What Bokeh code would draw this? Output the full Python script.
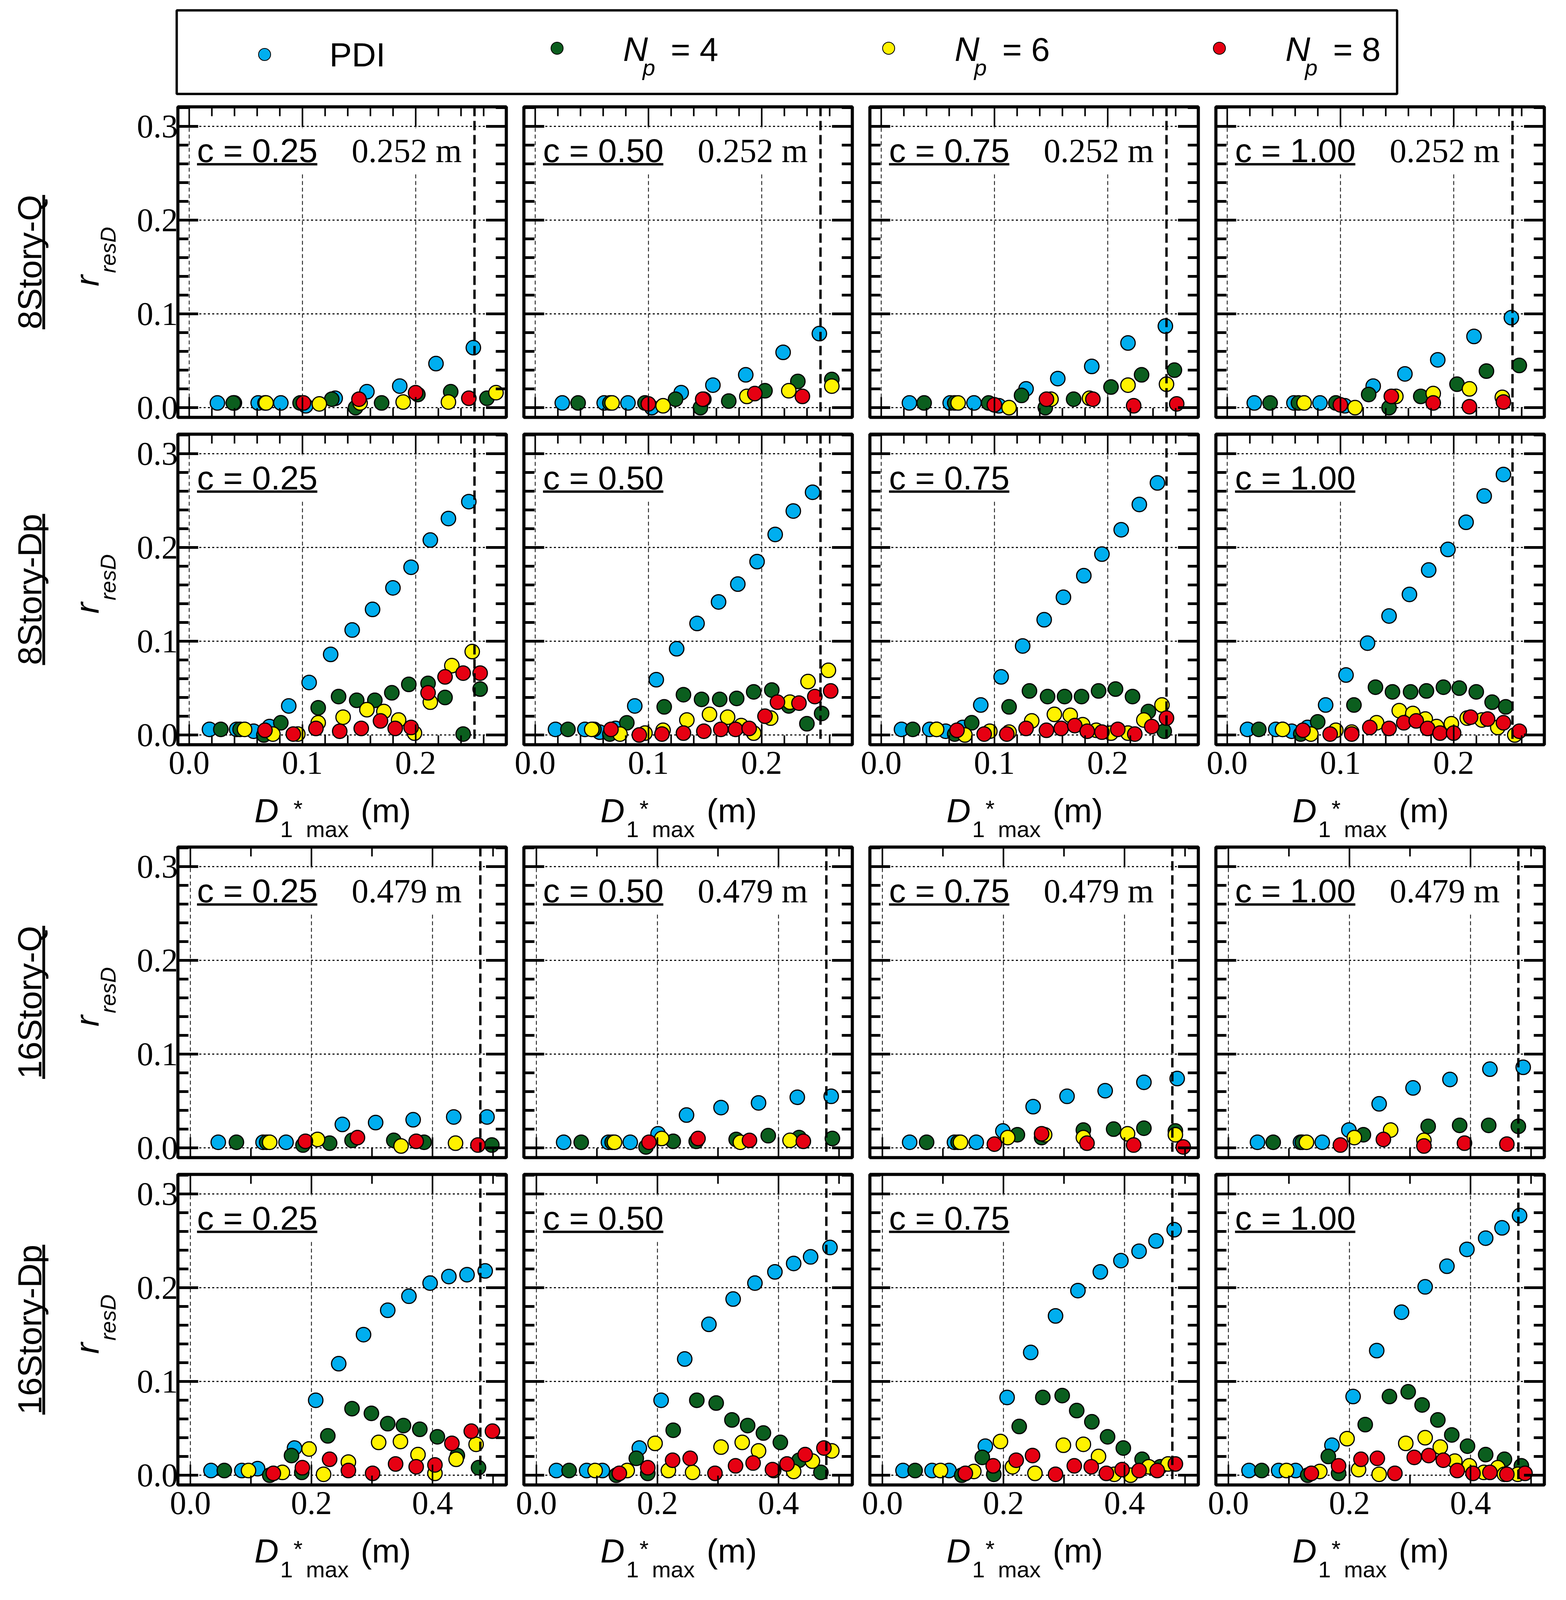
import math
from bokeh.plotting import figure
from bokeh.layouts import column, row
from bokeh.models import (Range1d, LinearAxis, FixedTicker, Span, Label,
                          BoxAnnotation, PrintfTickFormatter, CustomJSTickFormatter)
from bokeh.embed import file_html
from bokeh.resources import INLINE

# ---------------- data ----------------
C_VALUES = ["0.25", "0.50", "0.75", "1.00"]
ROW_NAMES = ["8Story-Q", "8Story-Dp", "16Story-Q", "16Story-Dp"]
LIMITS = [0.252, 0.252, 0.479, 0.479]
LIMIT_TEXT = ["0.252 m", None, "0.479 m", None]
SERIES_NAMES = ["PDI", "4", "6", "8"]
COLORS = ["#00AEEF", "#0B5E1E", "#FFF200", "#E60012"]

# 8Story-Q
Q8_PDI_X = [[.025, .040, .061, .081, .103, .129, .157, .186, .218, .251],
            [.024, .061, .082, .103, .129, .157, .186, .219, .251],
            [.025, .061, .082, .104, .128, .156, .186, .218, .251],
            [.024, .059, .082, .104, .129, .157, .186, .218, .251]]
Q8_PDI_Y = [[.005, .005, .005, .005, .002, .010, .017, .023, .047, .064],
            [.005, .005, .005, .000, .016, .024, .035, .059, .079],
            [.005, .005, .005, .002, .020, .031, .044, .069, .087],
            [.005, .005, .005, .002, .023, .036, .051, .076, .096]]
Q8_NP4_X = [[.039, .067, .098, .126, .147, .170, .202, .231, .263],
            [.038, .066, .097, .124, .146, .171, .203, .232, .262],
            [.038, .065, .095, .124, .145, .170, .203, .230, .259],
            [.038, .063, .096, .125, .143, .171, .203, .229, .258]]
Q8_NP4_Y = [[.005, .005, .005, .009, .000, .005, .014, .017, .010],
            [.005, .005, .005, .009, .000, .007, .018, .028, .030],
            [.005, .005, .005, .013, .000, .009, .022, .035, .040],
            [.005, .005, .005, .014, .000, .012, .025, .039, .045]]
Q8_NP6_X = [[.068, .115, .151, .189, .229, .271],
            [.068, .113, .149, .187, .224, .262],
            [.068, .113, .150, .184, .218, .252],
            [.068, .113, .149, .182, .214, .243]]
Q8_NP6_Y = [[.005, .004, .005, .006, .006, .016],
            [.005, .002, .009, .012, .018, .023],
            [.005, .000, .009, .010, .024, .025],
            [.005, .000, .012, .015, .020, .011]]
Q8_NP8_X = [[.101, .150, .200, .247],
            [.100, .148, .194, .236],
            [.100, .146, .187, .223, .261],
            [.100, .145, .182, .214, .244]]
Q8_NP8_Y = [[.005, .009, .016, .010],
            [.004, .009, .015, .012],
            [.003, .009, .009, .002, .004],
            [.003, .012, .005, .001, .006]]

# 8Story-Dp
DP8_PDI_X = [[.018, .042, .057, .071, .088, .106, .125, .144, .162, .180, .196, .213, .229, .247],
             [.018, .044, .057, .071, .088, .107, .125, .143, .162, .179, .196, .212, .228, .245],
             [.018, .043, .057, .072, .088, .106, .125, .144, .161, .179, .195, .212, .228, .244],
             [.018, .043, .057, .071, .087, .105, .124, .143, .161, .178, .195, .211, .227, .244]]
DP8_PDI_Y = [[.006, .006, .004, .009, .031, .056, .086, .112, .134, .157, .179, .208, .231, .249],
             [.006, .006, .003, .007, .031, .059, .092, .119, .142, .161, .185, .214, .239, .259],
             [.006, .006, .004, .008, .032, .062, .095, .123, .147, .170, .193, .219, .246, .269],
             [.006, .006, .004, .008, .032, .064, .098, .127, .150, .176, .198, .227, .255, .278]]
DP8_NP4_X = [[.028, .045, .066, .081, .114, .132, .148, .164, .179, .194, .211, .226, .242, .257],
             [.029, .052, .066, .081, .114, .131, .147, .163, .178, .193, .209, .224, .240, .253],
             [.028, .049, .065, .080, .113, .131, .147, .162, .177, .192, .207, .222, .236, .250],
             [.028, .049, .065, .080, .112, .131, .146, .162, .176, .191, .205, .220, .234, .246]]
DP8_NP4_Y = [[.006, .006, .000, .013, .029, .041, .037, .037, .045, .054, .055, .040, .001, .049],
             [.006, .006, .001, .013, .030, .043, .038, .038, .039, .046, .048, .031, .012, .023],
             [.006, .006, .001, .013, .030, .047, .041, .041, .041, .047, .049, .041, .025, .004],
             [.006, .006, .001, .014, .032, .051, .046, .046, .047, .051, .050, .046, .035, .030]]
DP8_NP6_X = [[.049, .074, .096, .114, .136, .157, .172, .185, .199, .213, .232, .250],
             [.050, .075, .097, .113, .134, .154, .170, .182, .193, .208, .225, .241, .259],
             [.049, .074, .096, .113, .133, .153, .167, .178, .190, .203, .218, .232, .248],
             [.049, .074, .096, .110, .132, .152, .164, .175, .185, .198, .212, .225, .239, .254]]
DP8_NP6_Y = [[.006, .001, .001, .013, .019, .027, .025, .016, .002, .035, .074, .089],
             [.006, .001, .002, .005, .016, .022, .019, .010, .002, .018, .035, .057, .069],
             [.006, .000, .004, .003, .015, .022, .021, .011, .005, .002, .002, .016, .032],
             [.006, .001, .005, .003, .013, .026, .023, .017, .009, .012, .018, .016, .008, .000]]
DP8_NP8_X = [[.067, .092, .112, .133, .152, .169, .182, .196, .211, .226, .242, .257],
             [.067, .092, .112, .131, .149, .164, .177, .189, .203, .214, .233, .247, .261],
             [.067, .091, .111, .128, .146, .159, .171, .182, .195, .209, .224, .239, .252],
             [.067, .091, .110, .126, .143, .156, .167, .177, .188, .200, .215, .230, .244, .258]]
DP8_NP8_Y = [[.005, .001, .007, .004, .007, .015, .007, .008, .045, .062, .066, .066],
             [.006, .000, .001, .002, .004, .006, .006, .007, .020, .035, .034, .041, .047],
             [.005, .001, .001, .007, .005, .007, .010, .004, .003, .006, .001, .009, .018],
             [.005, .001, .001, .008, .007, .013, .015, .007, .002, .002, .019, .017, .013, .004]]

# 16Story-Q
Q16_PDI_X = [[.046, .120, .158, .251, .306, .368, .435, .490],
             [.045, .119, .155, .201, .248, .305, .367, .431, .487],
             [.045, .119, .155, .199, .249, .305, .368, .432, .487],
             [.048, .119, .155, .199, .249, .305, .366, .432, .487]]
Q16_PDI_Y = [[.006, .006, .006, .025, .027, .030, .033, .033],
             [.006, .006, .006, .015, .035, .043, .048, .054, .055],
             [.006, .006, .006, .018, .044, .055, .061, .070, .074],
             [.006, .006, .006, .019, .047, .064, .073, .084, .086]]
Q16_NP4_X = [[.076, .126, .186, .230, .267, .336, .386, .498],
             [.074, .125, .181, .226, .264, .330, .383, .434, .489],
             [.073, .125, .223, .263, .332, .382, .432, .484],
             [.074, .122, .223, .330, .382, .430, .479]]
Q16_NP4_Y = [[.006, .006, .003, .005, .008, .008, .006, .003],
             [.006, .006, .001, .007, .007, .009, .013, .011, .010],
             [.006, .006, .014, .011, .019, .020, .021, .018],
             [.006, .006, .014, .023, .024, .024, .023]]
Q16_NP6_X = [[.131, .210, .348, .438],
             [.129, .207, .337, .419],
             [.129, .207, .268, .332, .405, .484],
             [.129, .208, .268, .323]]
Q16_NP6_Y = [[.006, .009, .002, .005],
             [.006, .010, .006, .008],
             [.006, .011, .014, .011, .015, .014],
             [.006, .011, .019, .008]]
Q16_NP8_X = [[.190, .276, .373, .475],
             [.186, .267, .352, .441],
             [.185, .263, .338, .415, .497],
             [.185, .256, .323, .390, .460]]
Q16_NP8_Y = [[.007, .011, .007, .003],
             [.006, .010, .008, .007],
             [.004, .015, .005, .003, .001],
             [.003, .009, .002, .005, .004]]

# 16Story-Dp
DP16_PDI_X = [[.034, .085, .111, .172, .207, .245, .286, .326, .361, .396, .427, .457, .487],
              [.033, .083, .109, .170, .206, .245, .285, .325, .361, .394, .425, .453, .485],
              [.034, .082, .110, .170, .206, .245, .286, .323, .360, .394, .424, .452, .482],
              [.034, .083, .111, .171, .206, .245, .286, .325, .361, .394, .425, .452, .481]]
DP16_PDI_Y = [[.005, .005, .007, .029, .080, .119, .150, .176, .191, .205, .212, .214, .218],
              [.005, .005, .005, .029, .080, .124, .161, .188, .205, .217, .226, .233, .243],
              [.005, .005, .005, .031, .083, .131, .170, .197, .217, .229, .239, .250, .262],
              [.005, .005, .005, .032, .084, .133, .174, .201, .223, .241, .253, .264, .277]]
DP16_NP4_X = [[.056, .131, .167, .184, .227, .267, .299, .326, .352, .379, .408, .441, .476],
              [.054, .132, .165, .184, .226, .265, .297, .323, .349, .375, .403, .434, .470],
              [.054, .131, .165, .184, .226, .265, .297, .321, .346, .372, .398, .429, .459],
              [.055, .131, .165, .182, .226, .266, .297, .320, .346, .369, .395, .425, .456, .484]]
DP16_NP4_Y = [[.005, .000, .021, .003, .042, .071, .066, .055, .053, .049, .041, .021, .008],
              [.005, .000, .018, .002, .048, .080, .077, .059, .053, .045, .035, .016, .003],
              [.005, .000, .019, .001, .052, .083, .085, .069, .057, .041, .029, .017, .009],
              [.005, .000, .020, .002, .054, .084, .089, .075, .059, .043, .031, .022, .017, .010]]
DP16_NP6_X = [[.096, .152, .196, .220, .261, .311, .347, .376, .404, .439, .472],
              [.097, .150, .196, .218, .258, .305, .340, .367, .392, .425, .456, .488],
              [.096, .151, .195, .215, .252, .299, .332, .357, .383, .410, .440, .472],
              [.096, .151, .196, .215, .249, .293, .325, .350, .374, .398, .422, .445, .456, .478]]
DP16_NP6_Y = [[.005, .003, .028, .001, .014, .035, .036, .022, .002, .017, .033],
              [.005, .005, .034, .005, .003, .030, .035, .026, .005, .004, .015, .026],
              [.005, .004, .036, .009, .002, .032, .033, .020, .001, .000, .009, .012],
              [.005, .004, .039, .006, .001, .034, .040, .030, .015, .010, .003, .008, .001, .001]]
DP16_NP8_X = [[.137, .185, .230, .261, .301, .339, .373, .404, .432, .464, .499],
              [.137, .184, .225, .254, .295, .329, .358, .390, .414, .444, .475],
              [.137, .183, .221, .248, .286, .317, .345, .370, .396, .424, .454, .484],
              [.137, .182, .219, .246, .275, .307, .331, .355, .378, .404, .432, .460, .490]]
DP16_NP8_Y = [[.002, .008, .017, .005, .002, .012, .009, .011, .034, .047, .047],
              [.002, .008, .016, .018, .002, .010, .013, .006, .012, .022, .029],
              [.002, .010, .016, .021, .001, .010, .009, .002, .006, .005, .005, .012],
              [.002, .010, .017, .018, .002, .019, .021, .016, .005, .002, .003, .001, .002]]

ROWS_X = [[Q8_PDI_X, Q8_NP4_X, Q8_NP6_X, Q8_NP8_X],
          [DP8_PDI_X, DP8_NP4_X, DP8_NP6_X, DP8_NP8_X],
          [Q16_PDI_X, Q16_NP4_X, Q16_NP6_X, Q16_NP8_X],
          [DP16_PDI_X, DP16_NP4_X, DP16_NP6_X, DP16_NP8_X]]
ROWS_Y = [[Q8_PDI_Y, Q8_NP4_Y, Q8_NP6_Y, Q8_NP8_Y],
          [DP8_PDI_Y, DP8_NP4_Y, DP8_NP6_Y, DP8_NP8_Y],
          [Q16_PDI_Y, Q16_NP4_Y, Q16_NP6_Y, Q16_NP8_Y],
          [DP16_PDI_Y, DP16_NP4_Y, DP16_NP6_Y, DP16_NP8_Y]]

# ticks
X8_MAJ = [0.0, 0.1, 0.2]
X8_MIN = [0.02, 0.04, 0.06, 0.08, 0.12, 0.14, 0.16, 0.18, 0.22, 0.24, 0.26]
X16_MAJ = [0.0, 0.2, 0.4]
X16_MIN = [0.1, 0.3, 0.5]
Y_MAJ = [0.0, 0.1, 0.2, 0.3]
Y_MIN = [0.02, 0.04, 0.06, 0.08, 0.12, 0.14, 0.16, 0.18, 0.22, 0.24, 0.26, 0.28, 0.32]

# ---------------- layout (pixels) ----------------
# the visible window is a little shorter than 4331 px, so heights are squeezed a bit
FW = 841          # frame width
FH = 795          # frame height
STRIP_W = 325
LEG_H = 262
ROW_TB = [(11, 21), (22, 117), (11, 21), (22, 117)]
TITLE_H = 134
COL_LEFT0 = 130
COL_LEFT = 30
COL_RIGHT = 15
X8_RANGE = (-0.0099, 0.2801)
X16_RANGE = (-0.0207, 0.5219)
Y_RANGE = (-0.0104, 0.3210)
SANS = "Liberation Sans"
SERIF = "Liberation Serif"
ARIAL_W = {'8': .556, '1': .556, '6': .556, 'S': .667, 't': .278, 'o': .556, 'r': .333,
           'y': .5, '-': .333, 'Q': .778, 'D': .722, 'p': .556}


def text_w(s, size):
    return sum(ARIAL_W.get(ch, .556) for ch in s) * size


def txt(x, y, text, size, font=SANS, italic=False, align="left", angle=0.0):
    # text_baseline "middle": y is the visual centre of the line
    return Label(x=x, y=y, text=text, text_font=font, text_font_size=f"{size}px",
                 text_font_style="italic" if italic else "normal", text_color="black",
                 text_align=align, text_baseline="middle", angle=angle)


def hide_labels(ax):
    ax.formatter = CustomJSTickFormatter(code="return '';")
    ax.major_label_text_font_size = "0px"
    ax.major_label_standoff = 0


def style_axis(ax, horizontal):
    ax.axis_line_color = None
    ax.major_tick_out = 0
    ax.minor_tick_out = 0
    ax.major_tick_line_color = "black"
    ax.minor_tick_line_color = "black"
    if horizontal:
        ax.major_tick_in = 52
        ax.minor_tick_in = 24
        ax.major_tick_line_width = 4
        ax.minor_tick_line_width = 4
    else:
        ax.major_tick_in = 52
        ax.minor_tick_in = 27
        ax.major_tick_line_width = 7
        ax.minor_tick_line_width = 7
    ax.formatter = PrintfTickFormatter(format="%.1f")
    ax.major_label_text_font = SERIF
    ax.major_label_text_font_size = "84px"
    ax.major_label_text_color = "black"


def make_panel(r, c):
    big = r >= 2
    xr = X16_RANGE if big else X8_RANGE
    yr = Y_RANGE
    top, bottom = ROW_TB[r]
    left = COL_LEFT0 if c == 0 else COL_LEFT
    right = COL_RIGHT
    p = figure(width=left + FW + right, height=top + FH + bottom,
               x_range=Range1d(*xr), y_range=Range1d(*yr),
               output_backend="svg", toolbar_location=None,
               min_border_left=left, min_border_right=right,
               min_border_top=top, min_border_bottom=bottom)
    p.outline_line_color = "black"
    p.outline_line_width = 8
    p.background_fill_color = "white"

    xt = FixedTicker(ticks=X16_MAJ if big else X8_MAJ, minor_ticks=X16_MIN if big else X8_MIN)
    yt = FixedTicker(ticks=Y_MAJ, minor_ticks=Y_MIN)
    xb = p.xaxis[0]
    yl = p.yaxis[0]
    xb.ticker = xt
    yl.ticker = yt
    xa = LinearAxis(ticker=xt)
    yrt = LinearAxis(ticker=yt)
    p.add_layout(xa, "above")
    p.add_layout(yrt, "right")
    for ax in (xb, xa):
        style_axis(ax, True)
    for ax in (yl, yrt):
        style_axis(ax, False)
    xb.major_label_standoff = 18
    yl.major_label_standoff = 0
    hide_labels(xa)
    hide_labels(yrt)
    if r not in (1, 3):
        hide_labels(xb)
    if c != 0:
        hide_labels(yl)

    p.xgrid.grid_line_color = "black"
    p.xgrid.grid_line_width = 2
    p.xgrid.grid_line_dash = "10 7"
    p.ygrid.grid_line_color = "black"
    p.ygrid.grid_line_width = 3
    p.ygrid.grid_line_dash = "5 6"

    def fx(px):
        return xr[0] + px * (xr[1] - xr[0]) / FW

    def fy(px):
        return yr[1] - px * (yr[1] - yr[0]) / FH

    # white box behind the panel texts
    box_right = 752 if LIMIT_TEXT[r] else 372
    p.add_layout(BoxAnnotation(left=fx(38), right=fx(box_right), top=fy(55), bottom=fy(170),
                               fill_color="white", fill_alpha=1.0, line_color=None,
                               level="underlay"))

    for xs, ys, col in zip(ROWS_X[r], ROWS_Y[r], COLORS):
        p.scatter(xs[c], ys[c], size=37, fill_color=col, line_color="black", line_width=3)

    p.add_layout(Span(location=LIMITS[r], dimension="height", line_color="black",
                      line_width=6, line_dash="24 12"))

    # "c = 0.25" underlined
    p.add_layout(txt(fx(49), fy(111), "c", 86))
    p.add_layout(txt(fx(116), fy(111), "= " + C_VALUES[c], 86))
    p.add_layout(BoxAnnotation(left=fx(49), right=fx(49 + 308), top=fy(144), bottom=fy(150),
                               fill_color="black", fill_alpha=1.0, line_color=None))
    if LIMIT_TEXT[r]:
        p.add_layout(txt(fx(445), fy(112), LIMIT_TEXT[r], 86, font=SERIF))
    return p


def make_title_strip(width, bottom):
    # x-axis title  D1*max (m)  below each column; offsets measured from the frame bottom
    t = figure(width=width, height=TITLE_H, x_range=Range1d(0, width), y_range=Range1d(0, TITLE_H),
               x_axis_type=None, y_axis_type=None, output_backend="svg",
               toolbar_location=None, min_border=0, outline_line_color=None)

    def ty(below_frame):
        return TITLE_H - (below_frame - bottom)

    for c in range(4):
        x0 = COL_LEFT0 + c * (FW + COL_RIGHT + COL_LEFT)
        t.add_layout(txt(x0 + 196, ty(168), "D", 86, italic=True))
        t.add_layout(txt(x0 + 262, ty(216), "1", 58))
        t.add_layout(txt(x0 + 296, ty(164), "*", 60))
        t.add_layout(txt(x0 + 328, ty(216), "max", 58))
        t.add_layout(txt(x0 + 468, ty(168), "(m)", 86))
    return t


panels = [[make_panel(r, c) for c in range(4)] for r in range(4)]
GRID_W = sum(pp.width for pp in panels[0])
blocks = []
for r in range(4):
    blocks.append(row(panels[r], spacing=0))
    if r in (1, 3):
        blocks.append(make_title_strip(GRID_W, ROW_TB[r][1]))
grid = column(blocks, spacing=0)

# ---------------- left strip with row names and y titles ----------------
ROW_H = [t + FH + b + (TITLE_H if i in (1, 3) else 0) for i, (t, b) in enumerate(ROW_TB)]
STRIP_H = sum(ROW_H)
strip = figure(width=STRIP_W, height=STRIP_H, x_range=Range1d(0, STRIP_W),
               y_range=Range1d(0, STRIP_H), x_axis_type=None, y_axis_type=None,
               output_backend="svg", toolbar_location=None, min_border=0,
               outline_line_color=None)
yy = 0
for r, (t, b) in enumerate(ROW_TB):
    cy = STRIP_H - (yy + t + FH / 2)
    yy += ROW_H[r]
    name = ROW_NAMES[r]
    L = text_w(name, 86)
    strip.add_layout(txt(75, cy, name, 86, align="center", angle=math.pi / 2))
    strip.add_layout(BoxAnnotation(left=108, right=115, bottom=cy - L / 2, top=cy + L / 2,
                                   fill_color="black", fill_alpha=1.0, line_color=None))
    strip.add_layout(txt(222, cy - 62, "r", 86, italic=True, angle=math.pi / 2))
    strip.add_layout(txt(276, cy - 28, "resD", 56, italic=True, angle=math.pi / 2))

# ---------------- legend strip ----------------
TOTAL_W = STRIP_W + GRID_W
leg = figure(width=TOTAL_W, height=LEG_H, x_range=Range1d(0, TOTAL_W), y_range=Range1d(0, LEG_H),
             x_axis_type=None, y_axis_type=None, output_backend="svg",
             toolbar_location=None, min_border=0, outline_line_color=None)
leg.add_layout(BoxAnnotation(left=452, right=3577, top=LEG_H - 26, bottom=LEG_H - 240,
                             fill_color=None, line_color="black", line_alpha=1.0, line_width=6))
LEG_MARK_X = [677, 1426, 2275, 3122]
LEG_MARK_Y = [LEG_H - 139, LEG_H - 123, LEG_H - 123, LEG_H - 123]
leg.scatter(LEG_MARK_X, LEG_MARK_Y, size=31, fill_color=COLORS, line_color="black", line_width=2)
leg.add_layout(txt(843, LEG_H - 139, "PDI", 86))
for mx, num in zip(LEG_MARK_X[1:], SERIES_NAMES[1:]):
    nx = mx + 169
    leg.add_layout(txt(nx, LEG_H - 125, "N", 88, italic=True))
    leg.add_layout(txt(nx + 50, LEG_H - 172, "p", 58, italic=True))
    leg.add_layout(txt(nx + 122, LEG_H - 125, "= " + num, 86))

layout = column(leg, row(strip, grid, spacing=0), spacing=0)

open("out.html", "w").write(file_html(layout, INLINE))
